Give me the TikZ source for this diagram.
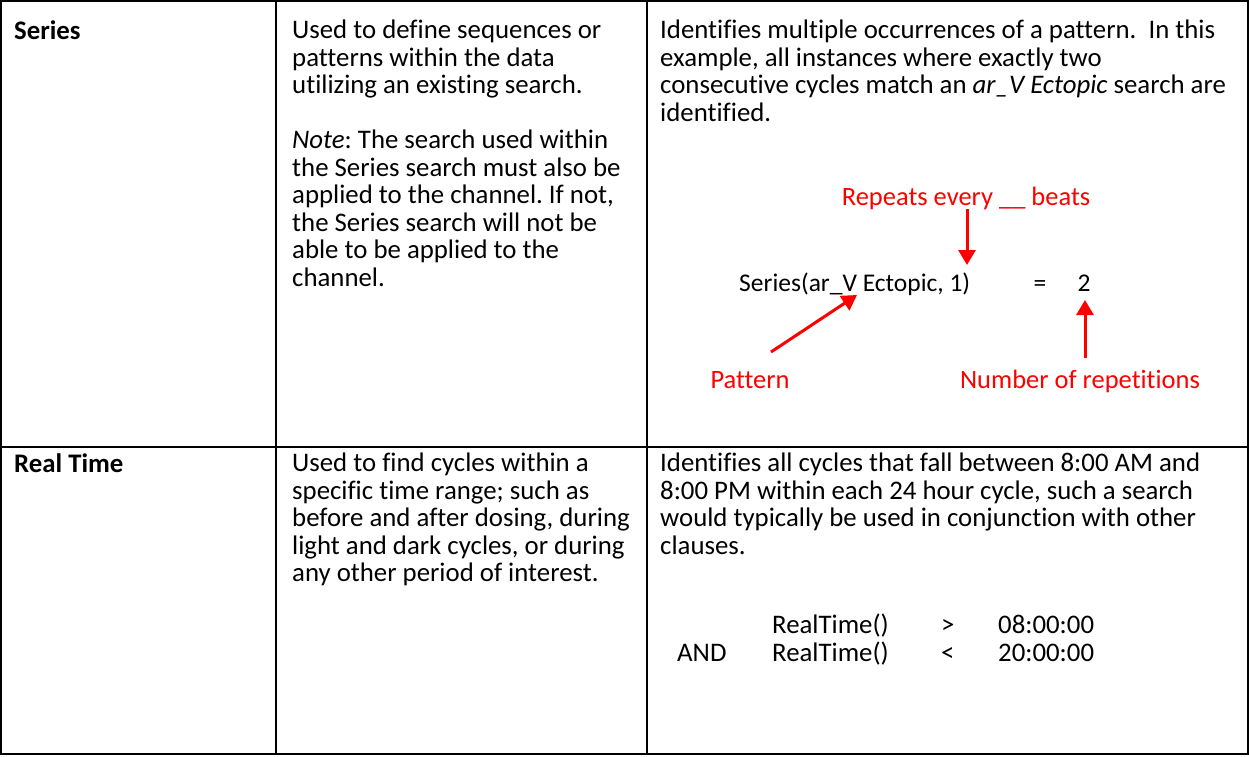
\documentclass[tikz,border=0pt]{standalone}
\usepackage{fontspec}
\setmainfont{Carlito}[Ligatures=NoCommon]
\usetikzlibrary{arrows.meta}
\frenchspacing

\definecolor{notered}{RGB}{255,0,0}

\tikzset{
  grid/.style={line width=2pt, line cap=rect},
  cell/.style={anchor=north west, inner sep=0pt, align=left,
               font=\fontsize{26.8}{27.5}\selectfont, execute at begin node=\strut},
  head/.style={cell, font=\fontsize{26.8}{27.5}\selectfont\bfseries},
  expr/.style={inner sep=0pt, anchor=base west, font=\fontsize{25.5}{27.5}\selectfont},
  note/.style={inner sep=0pt, anchor=base, text=notered, font=\fontsize{26.5}{27.5}\selectfont},
  redarrow/.style={draw=notered, line width=3pt, -{Triangle[width=17pt,length=15pt]}}
}

\begin{document}
\begin{tikzpicture}[x=1pt, y=-1pt]
        \useasboundingbox (0,0) rectangle (1249,756);

        % table rules
        \draw[grid] (1,1) rectangle (1248,754);
        \draw[grid] (276,1) -- (276,754);
        \draw[grid] (647,1) -- (647,754);
        \draw[grid] (1,447) -- (1248,447);

        % first row
        \node[head] (series) at (14,20) {Series};
        \node[cell] (seriesuse) at (292,20) {Used to define sequences or\\patterns within the data\\utilizing an existing search.};
        \node[cell] (seriesnote) at (292,130) {\textit{Note}: The search used within\\the Series search must also be\\applied to the channel. If not,\\the Series search will not be\\able to be applied to the\\channel.};
        \node[cell] (seriesex) at (660,20) {Identifies multiple occurrences of a pattern.\ \ In this\\example, all instances where exactly two\\consecutive cycles match an \textit{ar\_V Ectopic} search are\\identified.};

        \node[note] (repeats) at (966,205) {Repeats every \_\_ beats};
        \node[expr] (seriesfn) at (739,291) {Series(ar\_V Ectopic, 1)};
        \node[expr, anchor=base] (equals) at (1040,291) {=};
        \node[expr, anchor=base] (count) at (1084,291) {2};
        \node[note] (pattern) at (750,388) {Pattern};
        \node[note] (reps) at (1080,388) {Number of repetitions};

        \coordinate (beattip) at (967,265);
        \coordinate (pattip) at (857,295);
        \coordinate (pattail) at (771,352);
        \coordinate (reptail) at (1085,358);
        \coordinate (counttip) at (1085,300);

        \path[redarrow] (repeats.south -| beattip) -- (beattip);
        \path[redarrow] (pattail) -- (pattip);
        \path[redarrow] (reptail) -- (counttip);

        % second row
        \node[head] (realtime) at (14,453) {Real Time};
        \node[cell] (realtimeuse) at (292,453) {Used to find cycles within a\\specific time range; such as\\before and after dosing, during\\light and dark cycles, or during\\any other period of interest.};
        \node[cell] (realtimeex) at (660,453) {Identifies all cycles that fall between 8:00 AM and\\8:00 PM within each 24 hour cycle, such a search\\would typically be used in conjunction with other\\clauses.};

        \node[cell, anchor=base west, execute at begin node={}] (rtone) at (772,633) {RealTime()};
        \node[cell, anchor=base west, execute at begin node={}] (gt) at (941,633) {>};
        \node[cell, anchor=base west, execute at begin node={}] (lower) at (998,633) {08:00:00};
        \node[cell, anchor=base west, execute at begin node={}] (andop) at (677,661) {AND};
        \node[cell, anchor=base west, execute at begin node={}] (rttwo) at (772,661) {RealTime()};
        \node[cell, anchor=base west, execute at begin node={}] (lt) at (941,661) {<};
        \node[cell, anchor=base west, execute at begin node={}] (upper) at (998,661) {20:00:00};
\end{tikzpicture}
\end{document}
